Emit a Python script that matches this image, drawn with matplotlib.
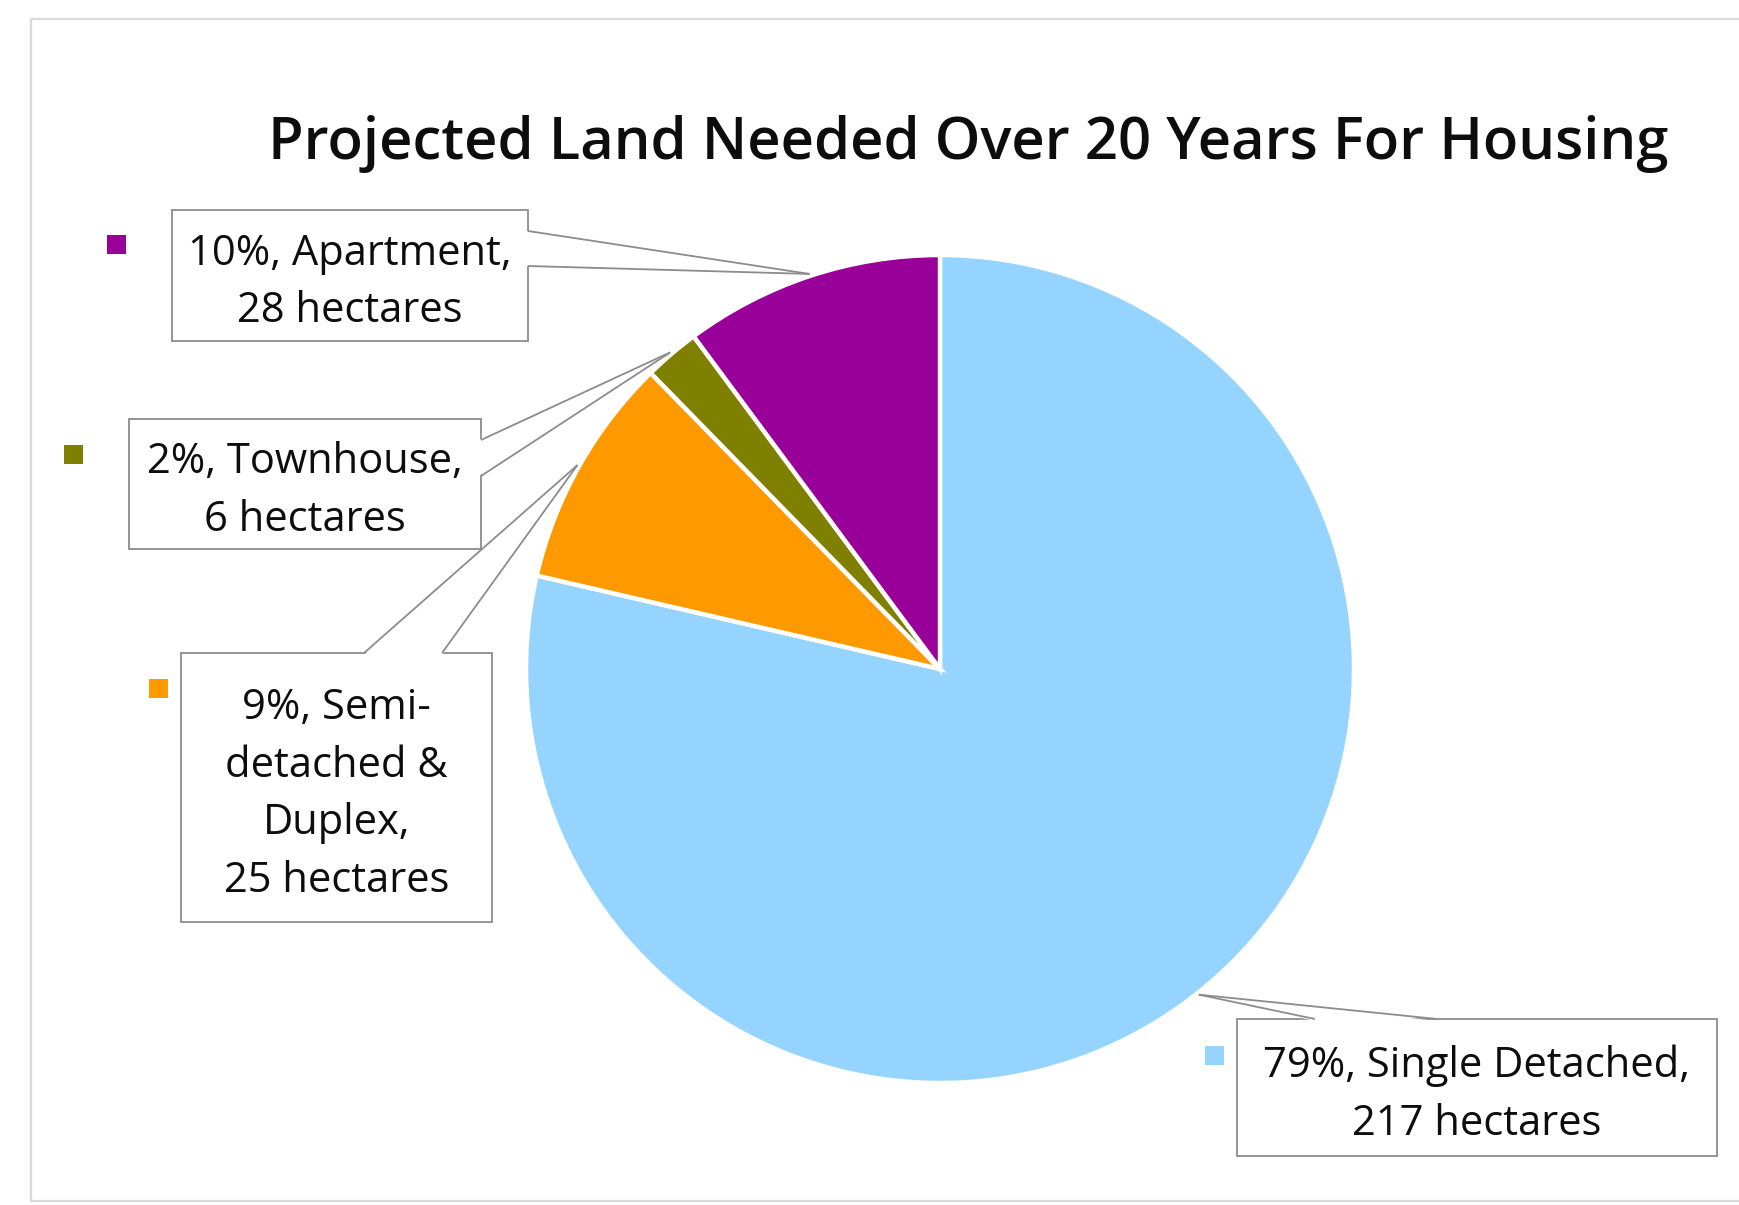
import matplotlib
matplotlib.use("Agg")
import matplotlib.pyplot as plt
import numpy as np
from matplotlib.patches import Rectangle, Polygon

plt.rcParams['font.family'] = ['Open Sans', 'DejaVu Sans']

# ---- data -------------------------------------------------------------
categories = ["Single Detached", "Semi-detached & Duplex", "Townhouse", "Apartment"]
hectares = [217, 25, 6, 28]
colors = ["#95D4FE", "#FF9900", "#808000", "#990099"]
title = "Projected Land Needed Over 20 Years For Housing"

# label text shown in each callout (line breaks as drawn)
label_lines = [
    "79%, Single Detached,\n217 hectares",
    "9%, Semi-\ndetached &\nDuplex,\n25 hectares",
    "2%, Townhouse,\n6 hectares",
    "10%, Apartment,\n28 hectares",
]

# ---- layout (pixels, measured from top-left) ---------------------------
W, H = 1740, 1205
pie_center = (940, 669)
pie_radius = 414

# callout boxes: (left, top, right, bottom)
boxes = [
    (1237, 1019, 1717, 1156),
    (181, 653, 492, 922),
    (129, 419, 481, 549),
    (172, 210, 528, 341),
]
# where each callout wedge leaves its box
bases = [
    [(1315, 1019), (1437, 1019)],
    [(364, 653), (442, 653)],
    [(481, 440), (481, 476)],
    [(528, 231), (528, 266)],
]
# legend squares (center)
squares = [(1215, 1055), (159, 688), (74, 455), (117, 245)]
sq = 19
text_drop = 7  # text sits a little below the box centre

fig = plt.figure(figsize=(W / 100, H / 100), dpi=100)
ax = fig.add_axes([0, 0, 1, 1])


def Y(y):
    return H - y


# outer chart frame
ax.add_patch(Rectangle((31, Y(1201)), W, 1201 - 19, facecolor="white",
                       edgecolor="#D9D9D9", linewidth=1.6, zorder=0))

wedges, _ = ax.pie(
    hectares, colors=colors, startangle=90, counterclock=False,
    center=(pie_center[0], Y(pie_center[1])), radius=pie_radius,
    wedgeprops=dict(edgecolor="white", linewidth=3.2), frame=True,
)

ax.set_xlim(0, W)
ax.set_ylim(0, H)
ax.set_aspect("equal")
ax.axis("off")

edge_col = "#8C8C8C"
for i, w in enumerate(wedges):
    mid = np.deg2rad((w.theta1 + w.theta2) / 2)
    tip = (pie_center[0] + (pie_radius + 2) * np.cos(mid),
           Y(pie_center[1]) + (pie_radius + 2) * np.sin(mid))
    l, t, r, b = boxes[i]
    ax.add_patch(Rectangle((l, Y(b)), r - l, b - t, facecolor="white",
                           edgecolor=edge_col, linewidth=1.3, zorder=5))
    (x1, y1), (x2, y2) = bases[i]
    cx, cy = (l + r) / 2, (t + b) / 2

    # nudge the base slightly into the box so the outline is covered
    def inward(x, y):
        dx = 2 if x <= l + 1 else (-2 if x >= r - 1 else 0)
        dy = 2 if y <= t + 1 else (-2 if y >= b - 1 else 0)
        return (x + dx, Y(y + dy))

    ax.add_patch(Polygon([inward(x1, y1), inward(x2, y2), tip], closed=True,
                         facecolor="white", edgecolor="none", zorder=6))
    for (bx, by) in bases[i]:
        ax.plot([bx, tip[0]], [Y(by), tip[1]], color=edge_col, lw=1.3,
                zorder=7, solid_capstyle="butt")
    ax.text(cx, Y(cy + text_drop), label_lines[i], ha="center", va="center",
            fontsize=30, fontweight="medium", color="#0D0D0D",
            linespacing=1.49, zorder=8)
    sx, sy = squares[i]
    ax.add_patch(Rectangle((sx - sq / 2, Y(sy) - sq / 2), sq, sq,
                           facecolor=colors[i], edgecolor="none", zorder=8))

ax.text(968, Y(159), title, ha="center", va="baseline", fontsize=41.8,
        fontweight="semibold", color="#0D0D0D")

fig.savefig("out.png", dpi=100)
